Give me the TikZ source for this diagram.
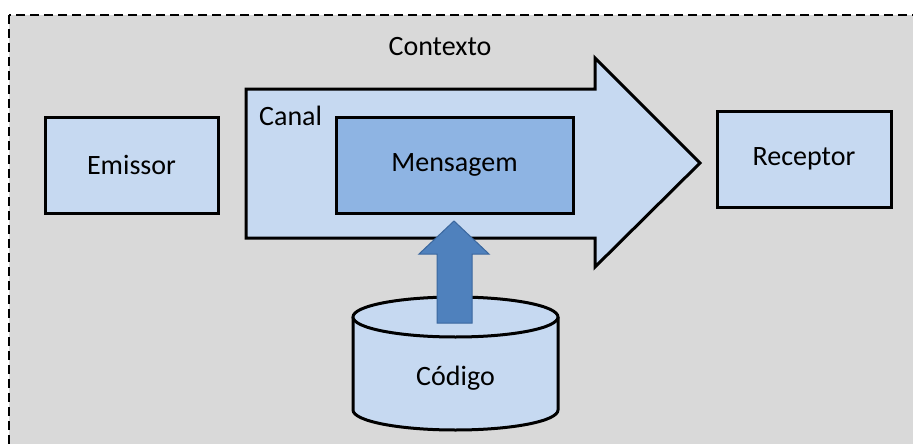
\documentclass[tikz,border=0pt]{standalone}
\usepackage{fontspec}
\setmainfont{Carlito}
\definecolor{ctxgray}{HTML}{D9D9D9}
\definecolor{lightblue}{HTML}{C6D9F1}
\definecolor{midblue}{HTML}{8EB4E3}
\definecolor{darkblue}{HTML}{4F81BD}
\definecolor{edgeblue}{HTML}{3A679E}
\tikzset{
  box/.style={draw=black,line width=3pt,fill=lightblue,inner sep=0pt,font=\fontsize{28}{32}\selectfont},
  label/.style={inner sep=0pt,font=\fontsize{28}{32}\selectfont}
}
\begin{document}
\begin{tikzpicture}[x=1pt,y=-1pt]
\useasboundingbox (0,0) rectangle (913,444);
% context
\draw[fill=ctxgray,line width=1.5pt,dash pattern=on 9pt off 5pt] (9,15) rectangle (930,460);
\node[label] (contexto) at (440,47) {Contexto};
% canal arrow
\draw[fill=lightblue,line width=3pt,line join=miter]
  (246,89) -- (595,89) -- (595,58) -- (700,163) -- (595,267) -- (595,238) -- (246,238) -- cycle;
\node[label,anchor=west] (canal) at (259,116) {Canal};
% boxes
\node[box,minimum width=173pt,minimum height=96pt] (emissor) at (131.5,165) {Emissor};
\node[box,fill=midblue,minimum width=237pt,minimum height=96pt] (mensagem) at (454.5,165) {Mensagem};
\node[box,minimum width=174pt,minimum height=96pt] (receptor) at (804,159) {Receptor};
% codigo
\fill[lightblue] (353,317) -- (353,410) arc[start angle=180,end angle=0,x radius=102.5,y radius=20] -- (558,317) -- cycle;
\draw[line width=3pt] (353,317) -- (353,410) arc[start angle=180,end angle=0,x radius=102.5,y radius=20] -- (558,317);
\draw[line width=3pt,fill=lightblue] (455.5,317) ellipse[x radius=102.5,y radius=20];
\node[label] (codigo) at (455.5,378) {Código};
% up arrow
\draw[fill=darkblue,draw=edgeblue,line width=1pt,line join=miter]
  (437,323) -- (437,254) -- (419,254) -- (454,221) -- (489,254) -- (472,254) -- (472,323) -- cycle;
\end{tikzpicture}
\end{document}
